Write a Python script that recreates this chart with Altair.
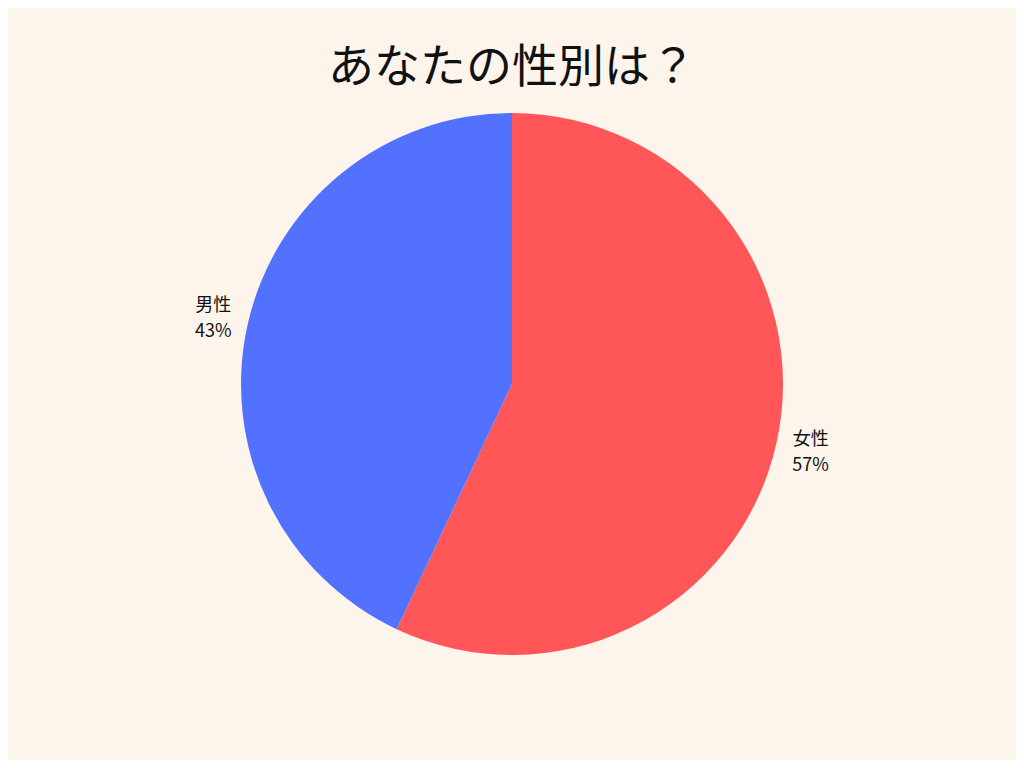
import altair as alt
import pandas as pd

title_text = ["あなたの性別は？"]
categories = ["女性", "男性"]
values = [57, 43]
colors = ["#FF5757", "#5271FF"]

df = pd.DataFrame({"cat": categories, "val": values, "order": list(range(len(categories)))})
df["label"] = [f"{c}\n{v}%" for c, v in zip(categories, values)]

FONT = "Noto Sans CJK JP"
CX, CY = 504, 376

base = alt.Chart(df).encode(
    theta=alt.Theta("val:Q", stack=True),
    order=alt.Order("order:Q"),
)
pie = base.mark_arc(outerRadius=271).encode(
    color=alt.Color("cat:N", scale=alt.Scale(domain=categories, range=colors), legend=None),
    x=alt.value(CX), y=alt.value(CY),
)
labels = base.mark_text(
    radius=306, fontSize=18, lineBreak="\n", font=FONT, lineHeight=26, dy=-11, color="#111111"
).encode(text="label:N", x=alt.value(CX), y=alt.value(CY))

title = alt.Chart(pd.DataFrame({"t": title_text})).mark_text(
    fontSize=46, font=FONT, color="#111111"
).encode(text="t:N", x=alt.value(CX), y=alt.value(60))

chart = alt.layer(pie, labels, title).properties(
    width=1008, height=752,
    autosize=alt.AutoSizeParams(type="none"),
    padding=0,
    background="#FDF5EC",
).configure_view(stroke=None)

chart.save("out.html", embed_options={"renderer": "svg", "actions": False})
